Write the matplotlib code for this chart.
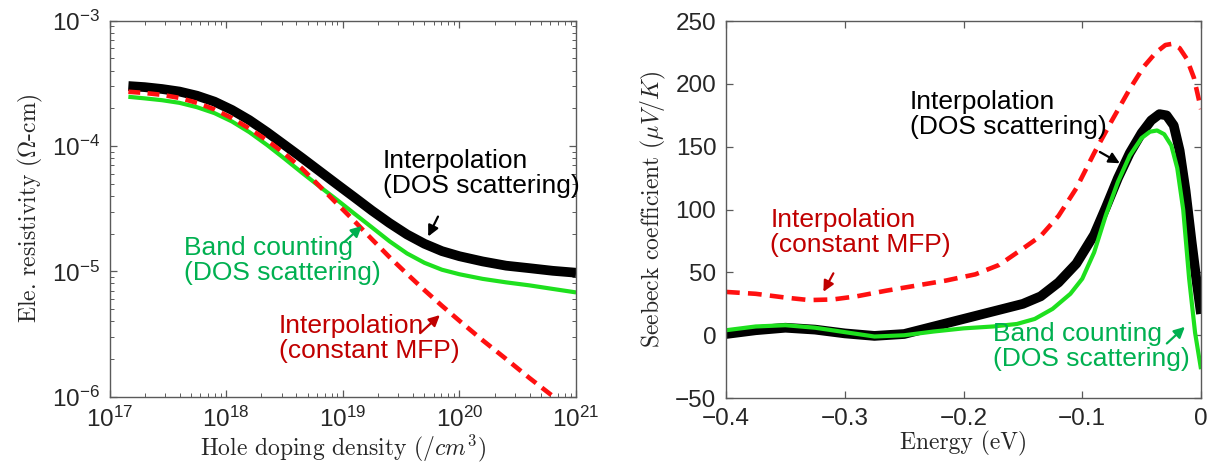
import matplotlib
matplotlib.use('Agg')
import matplotlib.pyplot as plt
from matplotlib.ticker import LogLocator, NullFormatter, FixedLocator

# left panel: resistivity (ohm-cm) vs hole density (/cm3)
density = [1.45e17, 2.0e17, 2.82e17, 3.98e17, 5.62e17, 7.94e17, 1.12e18, 1.58e18,
           2.24e18, 3.16e18, 4.47e18, 6.31e18, 8.91e18, 1.26e19, 1.78e19, 2.51e19,
           3.55e19, 5.01e19, 7.08e19, 1e20, 1.58e20, 2.51e20, 3.98e20, 6.31e20, 1e21]
rho_dos = [3.01e-4, 2.95e-4, 2.85e-4, 2.72e-4, 2.52e-4, 2.26e-4, 1.94e-4, 1.61e-4,
           1.29e-4, 1.02e-4, 8.04e-5, 6.31e-5, 4.95e-5, 3.89e-5, 3.05e-5, 2.43e-5,
           1.97e-5, 1.66e-5, 1.45e-5, 1.32e-5, 1.20e-5, 1.11e-5, 1.06e-5, 1.01e-5, 9.75e-6]
rho_band = [2.47e-4, 2.40e-4, 2.32e-4, 2.21e-4, 2.04e-4, 1.83e-4, 1.57e-4, 1.29e-4,
            1.02e-4, 7.94e-5, 6.12e-5, 4.76e-5, 3.72e-5, 2.88e-5, 2.24e-5, 1.74e-5,
            1.39e-5, 1.17e-5, 1.03e-5, 9.48e-6, 8.71e-6, 8.17e-6, 7.73e-6, 7.24e-6, 6.79e-6]
rho_mfp = [2.71e-4, 2.65e-4, 2.56e-4, 2.42e-4, 2.21e-4, 1.96e-4, 1.67e-4, 1.38e-4,
           1.11e-4, 8.71e-5, 6.61e-5, 4.79e-5, 3.47e-5, 2.51e-5, 1.80e-5, 1.30e-5,
           9.55e-6, 7.08e-6, 5.31e-6, 4.03e-6, 2.82e-6, 2.00e-6, 1.41e-6, 1.01e-6, 7.24e-7]

# right panel: Seebeck coefficient (uV/K) vs energy (eV)
e_dos = [-0.400, -0.375, -0.350, -0.325, -0.300, -0.275, -0.250, -0.225, -0.200,
         -0.175, -0.150, -0.135, -0.120, -0.105, -0.090, -0.080, -0.070, -0.060,
         -0.050, -0.042, -0.035, -0.029, -0.023, -0.018, -0.013, -0.008, -0.004, 0.0]
s_dos = [1, 4, 6, 4.5, 1.5, -0.5, 1, 7, 13, 19, 25, 31, 42, 57, 80, 102, 125, 145,
         161, 171, 176, 175, 167, 147, 115, 75, 45, 17]
e_band = [-0.400, -0.375, -0.350, -0.325, -0.300, -0.275, -0.250, -0.225, -0.200,
          -0.175, -0.155, -0.140, -0.125, -0.110, -0.100, -0.090, -0.080, -0.070,
          -0.060, -0.050, -0.043, -0.037, -0.031, -0.025, -0.020, -0.015, -0.010,
          -0.005, 0.0]
s_band = [4, 7, 8, 6, 2.5, -1, 0, 3, 5.5, 7, 9, 13, 21, 33, 45, 66, 96, 122, 143,
          157, 162, 163, 160, 151, 133, 100, 45, 2, -27]
e_mfp = [-0.400, -0.375, -0.350, -0.330, -0.310, -0.290, -0.265, -0.240, -0.215,
         -0.190, -0.170, -0.150, -0.135, -0.120, -0.105, -0.090, -0.075, -0.060,
         -0.048, -0.038, -0.030, -0.024, -0.018, -0.012, -0.006, 0.0]
s_mfp = [34.5, 33, 30, 28, 28.5, 31, 35.5, 39.5, 43.5, 48.5, 56, 69, 79, 95, 117,
         145, 171, 196, 214, 225, 231, 232, 228.5, 220, 205, 180]

e_ticks = [-0.4, -0.3, -0.2, -0.1, 0]
e_labels = ['\u22120.4', '\u22120.3', '\u22120.2', '\u22120.1', '0']
s_ticks = [-50, 0, 50, 100, 150, 200, 250]

plt.rcParams['font.family'] = ['Liberation Sans', 'DejaVu Sans']
plt.rcParams['mathtext.fontset'] = 'custom'
plt.rcParams['mathtext.rm'] = 'Liberation Sans'
plt.rcParams['mathtext.it'] = 'Liberation Sans:italic'

TXT = '#262626'
SPINE = '#5a5a5a'
BLACK = 'black'
GREEN = '#1ee01e'
RED = '#ff1010'
GREEN_TXT = '#00b050'
RED_TXT = '#c00000'
ANN_SIZE = 19
LAB_SIZE = 17

fig = plt.figure(figsize=(12.09, 4.70), dpi=100)
ax1 = fig.add_axes([0.0906, 0.156, 0.3859, 0.800])
ax2 = fig.add_axes([0.6005, 0.153, 0.3929, 0.802])


def style_axes(ax):
    for sp in ax.spines.values():
        sp.set_color(SPINE)
        sp.set_linewidth(1.0)
    ax.tick_params(which='both', direction='in', top=True, right=True,
                   colors=SPINE, labelcolor=TXT, labelsize=17.5)
    ax.tick_params(which='major', length=5, width=0.9, pad=7)
    ax.tick_params(which='minor', length=3, width=0.7)


def add_note(ax, txt, pos, tail, tip, tcolor):
    ax.text(pos[0], pos[1], txt, transform=ax.transAxes, ha='left', va='top',
            color=tcolor, fontsize=ANN_SIZE, linespacing=1.05)
    ax.annotate('', xy=tip, xytext=tail, xycoords='axes fraction',
                textcoords='axes fraction',
                arrowprops=dict(arrowstyle='-|>', color=tcolor, lw=1.6,
                                mutation_scale=16, shrinkA=0, shrinkB=0))


# ---- left panel
ax1.plot(density, rho_dos, color=BLACK, lw=7, solid_capstyle='butt')
ax1.plot(density, rho_band, color=GREEN, lw=3, solid_capstyle='butt')
ax1.plot(density, rho_mfp, color=RED, lw=3.3, dashes=(2.6, 1.6))
ax1.set_xscale('log')
ax1.set_yscale('log')
ax1.set_xlim(1e17, 1e21)
ax1.set_ylim(1e-6, 1e-3)
ax1.xaxis.set_major_locator(LogLocator(base=10, numticks=10))
ax1.xaxis.set_minor_locator(LogLocator(base=10, subs=range(2, 10), numticks=50))
ax1.yaxis.set_minor_locator(LogLocator(base=10, subs=range(2, 10), numticks=50))
ax1.xaxis.set_minor_formatter(NullFormatter())
ax1.yaxis.set_minor_formatter(NullFormatter())
style_axes(ax1)
ax1.set_xlabel('Hole doping density ($/cm^3$)', family='cmr10',
               math_fontfamily='cm', fontsize=LAB_SIZE, color=TXT, labelpad=1)
ax1.set_ylabel('Ele. resistivity ($\\Omega$-cm)', family='cmr10',
               math_fontfamily='cm', fontsize=LAB_SIZE, color=TXT, labelpad=5)

add_note(ax1, 'Interpolation\n(DOS scattering)', (0.586, 0.658),
         (0.704, 0.479), (0.683, 0.426), BLACK)
add_note(ax1, 'Band counting\n(DOS scattering)', (0.160, 0.428),
         (0.503, 0.411), (0.541, 0.454), GREEN_TXT)
add_note(ax1, 'Interpolation\n(constant MFP)', (0.363, 0.220),
         (0.666, 0.169), (0.708, 0.217), RED_TXT)

# ---- right panel
ax2.plot(e_dos, s_dos, color=BLACK, lw=7, solid_capstyle='butt')
ax2.plot(e_band, s_band, color=GREEN, lw=3, solid_capstyle='butt')
ax2.plot(e_mfp, s_mfp, color=RED, lw=3.3, dashes=(3.0, 1.8))
ax2.set_xlim(-0.4, 0)
ax2.set_ylim(-50, 250)
ax2.xaxis.set_major_locator(FixedLocator(e_ticks))
ax2.set_xticklabels(e_labels)
ax2.yaxis.set_major_locator(FixedLocator(s_ticks))
ax2.set_yticklabels([str(v).replace('-', '\u2212') for v in s_ticks])
style_axes(ax2)
ax2.set_xlabel('Energy (eV)', family='cmr10', fontsize=LAB_SIZE, color=TXT,
               labelpad=1)
ax2.set_ylabel('Seebeck coefficient ($\\mu V/K$)', family='cmr10',
               math_fontfamily='cm', fontsize=LAB_SIZE, color=TXT, labelpad=5)

add_note(ax2, 'Interpolation\n(DOS scattering)', (0.387, 0.818),
         (0.787, 0.653), (0.829, 0.623), BLACK)
add_note(ax2, 'Interpolation\n(constant MFP)', (0.093, 0.503),
         (0.226, 0.331), (0.205, 0.282), RED_TXT)
add_note(ax2, 'Band counting\n(DOS scattering)', (0.563, 0.203),
         (0.928, 0.145), (0.966, 0.189), GREEN_TXT)

fig.savefig('out.png', dpi=100)
